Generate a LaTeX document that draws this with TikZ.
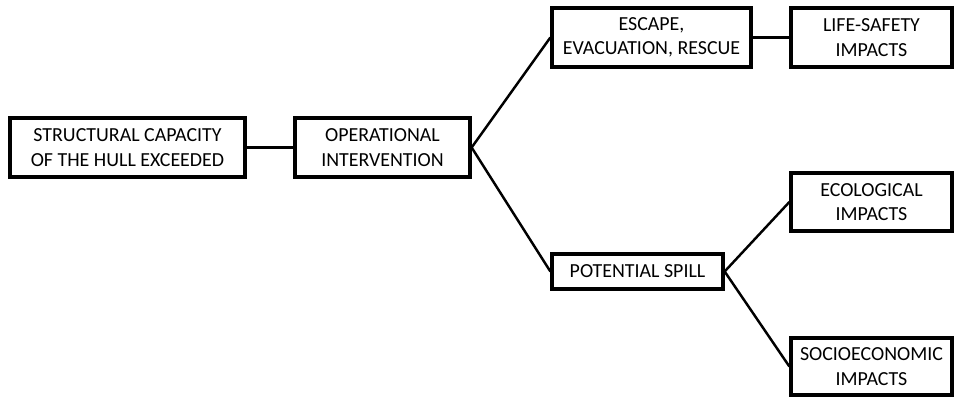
\documentclass[tikz,border=0pt]{standalone}
\usepackage{fontspec}
\setmainfont{Carlito}
\usetikzlibrary{positioning}

\tikzset{
	stagebox/.style={draw, line width=2.8pt, align=center, inner sep=0pt,
		font=\fontsize{17}{21}\selectfont},
	link/.style={line width=2.1pt}
}

\begin{document}
\begin{tikzpicture}[x=0.03cm, y=-0.03cm]
		\useasboundingbox (0,0) rectangle (954,399);
		\node[stagebox, minimum width=235*0.03cm, minimum height=59*0.03cm] (hull) at (127.5, 147.5) {STRUCTURAL CAPACITY\\OF THE HULL EXCEEDED};
		\node[stagebox, minimum width=175*0.03cm, minimum height=59*0.03cm] (oper) at (382.5, 147.5) {OPERATIONAL\\INTERVENTION};
		\node[stagebox, minimum width=199*0.03cm, minimum height=59*0.03cm] (escape) at (651.5, 37.5) {ESCAPE,\\EVACUATION, RESCUE};
		\node[stagebox, minimum width=171*0.03cm, minimum height=35*0.03cm] (spill) at (637.5, 271.5) {POTENTIAL SPILL};
		\node[stagebox, minimum width=161*0.03cm, minimum height=59*0.03cm] (life) at (871.5, 37.5) {LIFE-SAFETY\\IMPACTS};
		\node[stagebox, minimum width=161*0.03cm, minimum height=58*0.03cm] (eco) at (871.5, 202) {ECOLOGICAL\\IMPACTS};
		\node[stagebox, minimum width=161*0.03cm, minimum height=57*0.03cm] (socio) at (871.5, 366.5) {SOCIOECONOMIC\\IMPACTS};
		\draw[link] (hull.east)--(oper.west);
		\draw[link] (oper.east)--(escape.west);
		\draw[link] (oper.east)--(spill.west);
		\draw[link] (escape.east)--(life.west);
		\draw[link] (spill.east)--(eco.west);
		\draw[link] (spill.east)--(socio.west);
		\end{tikzpicture}
\end{document}
